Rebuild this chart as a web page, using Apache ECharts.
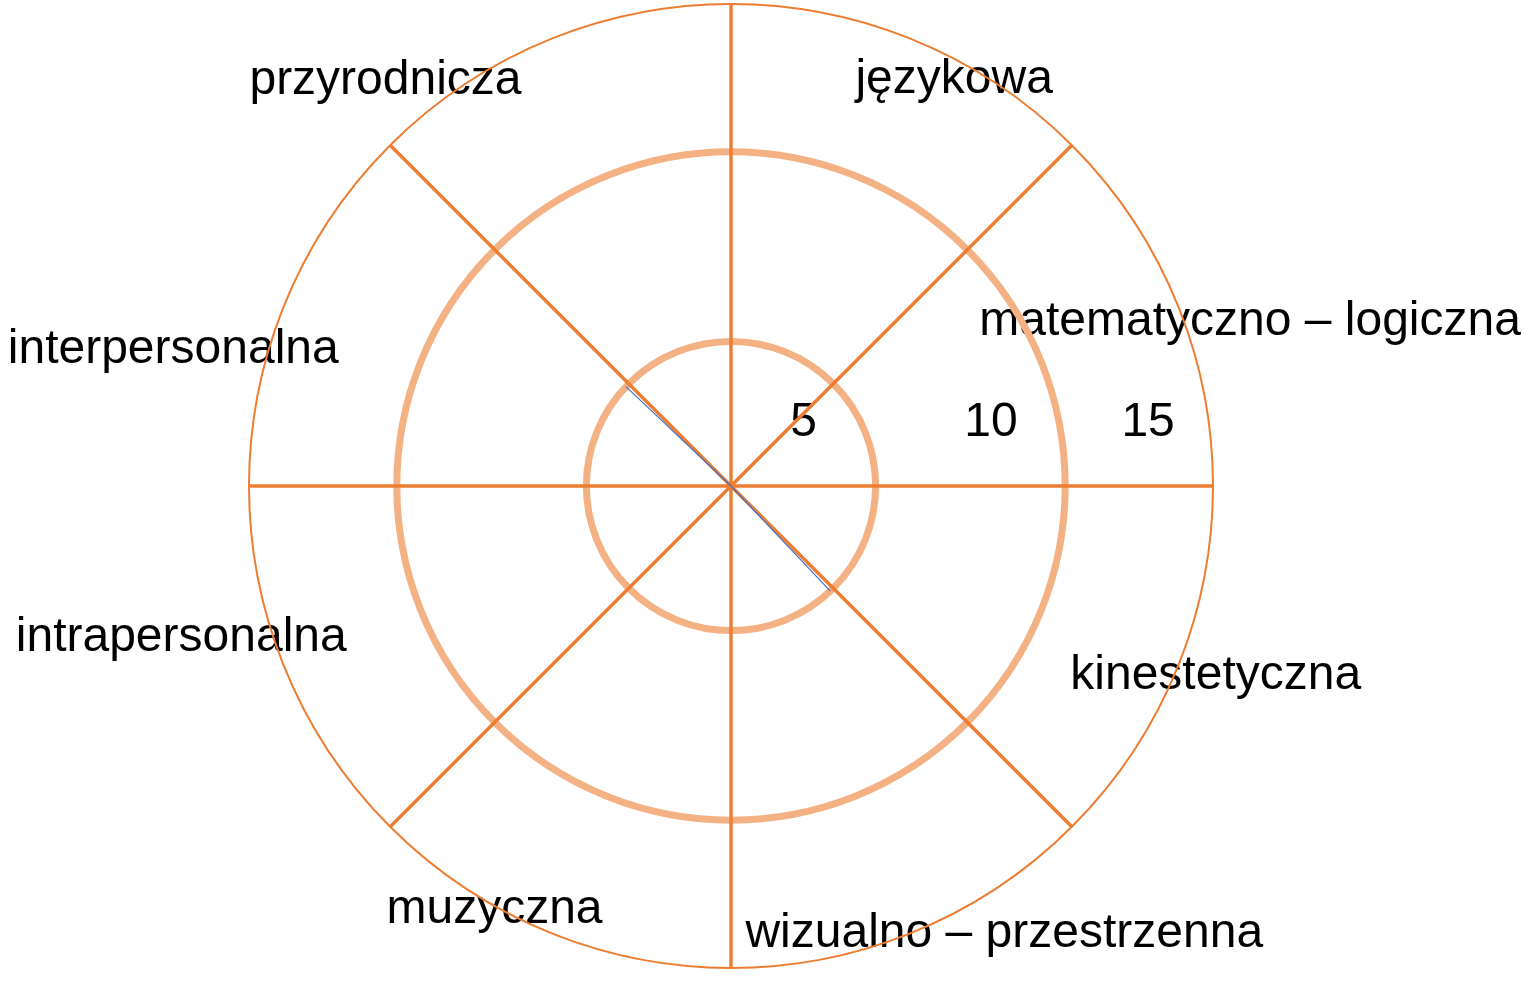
<!DOCTYPE html>
<html>
<head>
<meta charset="utf-8">
<script src="https://cdn.jsdelivr.net/npm/echarts@6/dist/echarts.min.js"></script>
<style>
html, body { margin: 0; padding: 0; background: #fff; }
#chart { width: 1524px; height: 985px; }
</style>
</head>
<body>
<div id="chart"></div>
<script>
// sektory (od góry, zgodnie z ruchem wskazówek zegara)
var categories = ['językowa', 'matematyczno – logiczna', 'kinestetyczna', 'wizualno – przestrzenna',
                  'muzyczna', 'intrapersonalna', 'interpersonalna', 'przyrodnicza'];
// okręgi skali i ich podpisy
var ringValues = [4.5, 10.4];
var scaleLabels = ['5', '10', '15'];
// niebieska linia: [promień, kąt]
var lineRadius = [4.5, 0, 4.5];
var lineAngle = [136.6, 0, 313.4];

var chart = echarts.init(document.getElementById('chart'));
var orange = '#ed7d31';
var font = "'Liberation Sans', Arial, sans-serif";

// przesunięcia podpisów sektorów [dx, dy] w px
var shifts = [[-60, 63], [-197, 44], [-106, -19], [-170, -22],
              [56, -46], [61, -57], [53, 72], [-25, 64]];
var scaleLabelAt = [2.26, 8.09, 12.98];

var catData = categories.map(function (c, i) {
    var dx = shifts[i][0], dy = shifts[i][1];
    return { value: c, textStyle: { padding: [dy, -dx, -dy, dx] } };
});

var lineData = lineRadius.map(function (r, i) { return [r, lineAngle[i]]; });

var option = {
    backgroundColor: '#fff',
    animation: false,
    polar: [
        { center: [731, 486], radius: 482 },
        { center: [731, 486], radius: 482 }
    ],
    angleAxis: [{
        polarIndex: 0,
        type: 'value',
        min: 0,
        max: 360,
        interval: 45,
        startAngle: 0,
        clockwise: false,
        z: 2,
        axisLine: { lineStyle: { color: orange, width: 2 } },
        axisTick: { show: false },
        axisLabel: { show: false },
        splitLine: { lineStyle: { color: orange, width: 3.4 } }
    }, {
        polarIndex: 1,
        type: 'category',
        data: catData,
        startAngle: 90,
        boundaryGap: true,
        axisLine: { show: false },
        axisTick: { show: false },
        splitLine: { show: false },
        axisLabel: { interval: 0, margin: 0, fontSize: 48, color: '#000', fontFamily: font }
    }],
    radiusAxis: [{
        polarIndex: 0,
        type: 'value',
        min: 0,
        max: 15,
        z: 1,
        axisLine: { show: false },
        axisTick: { show: false, customValues: ringValues },
        splitLine: { show: true, lineStyle: { color: '#f4b183', width: 7 } },
        axisLabel: {
            customValues: scaleLabelAt,
            margin: 39,
            fontSize: 48,
            color: '#000',
            fontFamily: font,
            formatter: function (v, i) {
                var k = scaleLabelAt.indexOf(v);
                return scaleLabels[k >= 0 ? k : i];
            }
        }
    }, {
        polarIndex: 1,
        type: 'value',
        min: 0,
        max: 15,
        show: false
    }],
    series: [{
        type: 'line',
        coordinateSystem: 'polar',
        polarIndex: 0,
        data: lineData,
        symbol: 'none',
        silent: true,
        z: 3,
        lineStyle: { color: '#4472c4', width: 1.2 }
    }]
};

chart.setOption(option);
</script>
</body>
</html>
